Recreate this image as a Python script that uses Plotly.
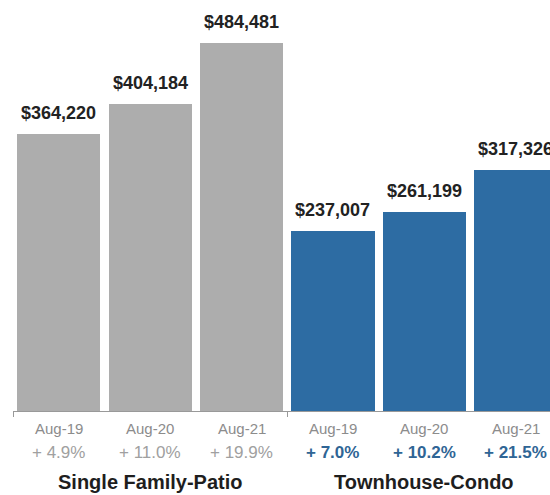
import plotly.graph_objects as go

periods = ["Aug-19", "Aug-20", "Aug-21", "Aug-19", "Aug-20", "Aug-21"]
prices = [364220, 404184, 484481, 237007, 261199, 317326]
changes = ["+ 4.9%", "+ 11.0%", "+ 19.9%", "+ 7.0%", "+ 10.2%", "+ 21.5%"]
segment = ["sf", "sf", "sf", "tc", "tc", "tc"]
groups = ["Single Family-Patio", "Townhouse-Condo"]
group_centers = [1, 4]

GRAY = "#adadad"
BLUE = "#2d6ca3"
FONT = "Liberation Sans, Arial, sans-serif"

xpos = list(range(len(prices)))
colors = [GRAY if s == "sf" else BLUE for s in segment]

fig = go.Figure()
fig.add_trace(go.Bar(
    x=xpos, y=prices, marker=dict(color=colors, line=dict(width=0)),
    width=0.91, hoverinfo="skip",
))

ann = []
for x, p in zip(xpos, prices):
    ann.append(dict(x=x, y=p, xref="x", yref="y", text=f"<b>${p:,}</b>",
                    showarrow=False, yanchor="bottom", yshift=9,
                    font=dict(family=FONT, size=18, color="#222222")))
for x, per, ch, s in zip(xpos, periods, changes, segment):
    ann.append(dict(x=x, y=0, xref="x", yref="paper", text=per, showarrow=False,
                    yanchor="middle", yshift=-17,
                    font=dict(family=FONT, size=15, color="#8c8c8c")))
    if s == "sf":
        txt = ch
        col = "#a0a0a0"
    else:
        txt = f"<b>{ch}</b>"
        col = "#2f6595"
    ann.append(dict(x=x, y=0, xref="x", yref="paper", text=txt, showarrow=False,
                    yanchor="middle", yshift=-41,
                    font=dict(family=FONT, size=17, color=col)))
for gx, g in zip(group_centers, groups):
    ann.append(dict(x=gx, y=0, xref="x", yref="paper", text=f"<b>{g}</b>",
                    showarrow=False, yanchor="middle", yshift=-71,
                    font=dict(family=FONT, size=20, color="#1e1e1e")))

fig.update_layout(
    width=550, height=495,
    margin=dict(l=13, r=0, t=0, b=84),
    paper_bgcolor="white", plot_bgcolor="white",
    showlegend=False,
    annotations=ann,
    bargap=0,
)
fig.update_xaxes(
    range=[-0.5, 5.375], showgrid=False, zeroline=False,
    showline=True, linecolor="#999999", linewidth=1,
    tickmode="array", tickvals=[-0.5, 2.5, 5.5], ticks="outside",
    ticklen=5, tickcolor="#999999", showticklabels=False,
)
fig.update_yaxes(range=[0, 540400], visible=False)

fig.write_html("out.html", config={"displayModeBar": False, "staticPlot": True},
               post_script="document.body.style.margin='0';document.body.style.overflow='hidden';")
